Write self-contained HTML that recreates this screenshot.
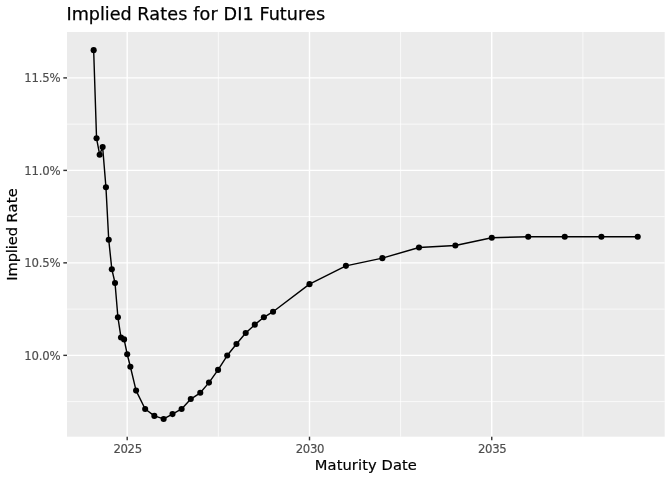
<!DOCTYPE html>
<html><head><meta charset="utf-8"><title>Implied Rates for DI1 Futures</title>
<style>html,body{margin:0;padding:0;background:#fff;}svg{display:block;}text{font-family:"DejaVu Sans","Liberation Sans",sans-serif;}</style></head><body>
<svg width="672" height="480" viewBox="0 0 672 480">
<rect width="672" height="480" fill="#ffffff"/>
<rect x="67.0" y="32.0" width="597.70" height="404.70" fill="#ebebeb"/>
<g stroke="#ffffff" stroke-width="0.71" fill="none">
<line x1="67.0" x2="664.7" y1="124.15" y2="124.15"/>
<line x1="67.0" x2="664.7" y1="216.6" y2="216.6"/>
<line x1="67.0" x2="664.7" y1="309.1" y2="309.1"/>
<line x1="67.0" x2="664.7" y1="401.6" y2="401.6"/>
<line y1="32.0" y2="436.7" x1="218.35" x2="218.35"/>
<line y1="32.0" y2="436.7" x1="400.6" x2="400.6"/>
<line y1="32.0" y2="436.7" x1="582.9" x2="582.9"/>
</g>
<g stroke="#ffffff" stroke-width="1.42" fill="none">
<line x1="67.0" x2="664.7" y1="77.9" y2="77.9"/>
<line x1="67.0" x2="664.7" y1="170.4" y2="170.4"/>
<line x1="67.0" x2="664.7" y1="262.85" y2="262.85"/>
<line x1="67.0" x2="664.7" y1="355.35" y2="355.35"/>
<line y1="32.0" y2="436.7" x1="127.2" x2="127.2"/>
<line y1="32.0" y2="436.7" x1="309.5" x2="309.5"/>
<line y1="32.0" y2="436.7" x1="491.75" x2="491.75"/>
</g>
<polyline fill="none" stroke="#000" stroke-width="1.42" stroke-linejoin="round" stroke-linecap="butt" points="93.66,50.15 96.55,138.3 99.65,154.7 102.64,147.1 105.94,187.2 108.73,239.75 111.83,269.2 115.02,283 117.92,317.3 121.01,337.5 124.11,339.4 127.2,354.2 130.39,366.7 136.08,390.6 145.17,409 154.35,415.9 163.64,418.95 172.52,414.1 181.61,408.95 190.79,399.05 200.28,392.8 208.96,382.6 218.05,369.9 227.23,355.55 236.46,343.95 245.7,333.0 254.78,324.65 263.87,317.3 273.05,311.7 309.49,284.15 345.93,265.85 382.37,258.15 419.0,247.45 455.34,245.55 491.78,237.7 528.22,236.7 564.75,236.7 601.39,236.7 637.73,236.7"/>
<g fill="#000" stroke="none">
<circle cx="93.66" cy="50.15" r="3.05"/>
<circle cx="96.55" cy="138.3" r="3.05"/>
<circle cx="99.65" cy="154.7" r="3.05"/>
<circle cx="102.64" cy="147.1" r="3.05"/>
<circle cx="105.94" cy="187.2" r="3.05"/>
<circle cx="108.73" cy="239.75" r="3.05"/>
<circle cx="111.83" cy="269.2" r="3.05"/>
<circle cx="115.02" cy="283" r="3.05"/>
<circle cx="117.92" cy="317.3" r="3.05"/>
<circle cx="121.01" cy="337.5" r="3.05"/>
<circle cx="124.11" cy="339.4" r="3.05"/>
<circle cx="127.2" cy="354.2" r="3.05"/>
<circle cx="130.39" cy="366.7" r="3.05"/>
<circle cx="136.08" cy="390.6" r="3.05"/>
<circle cx="145.17" cy="409" r="3.05"/>
<circle cx="154.35" cy="415.9" r="3.05"/>
<circle cx="163.64" cy="418.95" r="3.05"/>
<circle cx="172.52" cy="414.1" r="3.05"/>
<circle cx="181.61" cy="408.95" r="3.05"/>
<circle cx="190.79" cy="399.05" r="3.05"/>
<circle cx="200.28" cy="392.8" r="3.05"/>
<circle cx="208.96" cy="382.6" r="3.05"/>
<circle cx="218.05" cy="369.9" r="3.05"/>
<circle cx="227.23" cy="355.55" r="3.05"/>
<circle cx="236.46" cy="343.95" r="3.05"/>
<circle cx="245.7" cy="333.0" r="3.05"/>
<circle cx="254.78" cy="324.65" r="3.05"/>
<circle cx="263.87" cy="317.3" r="3.05"/>
<circle cx="273.05" cy="311.7" r="3.05"/>
<circle cx="309.49" cy="284.15" r="3.05"/>
<circle cx="345.93" cy="265.85" r="3.05"/>
<circle cx="382.37" cy="258.15" r="3.05"/>
<circle cx="419.0" cy="247.45" r="3.05"/>
<circle cx="455.34" cy="245.55" r="3.05"/>
<circle cx="491.78" cy="237.7" r="3.05"/>
<circle cx="528.22" cy="236.7" r="3.05"/>
<circle cx="564.75" cy="236.7" r="3.05"/>
<circle cx="601.39" cy="236.7" r="3.05"/>
<circle cx="637.73" cy="236.7" r="3.05"/>
</g>
<g stroke="#333333" stroke-width="1.42" fill="none">
<line x1="63.33" x2="67.0" y1="77.9" y2="77.9"/>
<line x1="63.33" x2="67.0" y1="170.4" y2="170.4"/>
<line x1="63.33" x2="67.0" y1="262.85" y2="262.85"/>
<line x1="63.33" x2="67.0" y1="355.35" y2="355.35"/>
<line y1="436.7" y2="440.37" x1="127.2" x2="127.2"/>
<line y1="436.7" y2="440.37" x1="309.5" x2="309.5"/>
<line y1="436.7" y2="440.37" x1="491.75" x2="491.75"/>
</g>
<g fill="#4d4d4d" stroke="#4d4d4d" stroke-width="0.15" font-size="11.73px">
<text x="60.3" y="82.10" text-anchor="end" letter-spacing="-0.25">11.5%</text>
<text x="60.3" y="174.60" text-anchor="end" letter-spacing="-0.25">11.0%</text>
<text x="60.3" y="267.05" text-anchor="end" letter-spacing="-0.25">10.5%</text>
<text x="60.3" y="359.55" text-anchor="end" letter-spacing="-0.25">10.0%</text>
<text x="127.60" y="452.6" text-anchor="middle" letter-spacing="-0.4">2025</text>
<text x="309.90" y="452.6" text-anchor="middle" letter-spacing="-0.4">2030</text>
<text x="492.15" y="452.6" text-anchor="middle" letter-spacing="-0.4">2035</text>
</g>
<text x="365.9" y="469.5" text-anchor="middle" font-size="14.67px" fill="#000" stroke="#000" stroke-width="0.2" letter-spacing="0.1">Maturity Date</text>
<text transform="translate(17.2,234.25) rotate(-90)" text-anchor="middle" font-size="14.67px" fill="#000" stroke="#000" stroke-width="0.2"><tspan letter-spacing="-0.13">Implied </tspan><tspan letter-spacing="0.3">Rate</tspan></text>
<text x="66.5" y="20.2" font-size="17.6px" fill="#000" stroke="#000" stroke-width="0.25" ><tspan letter-spacing="-0.02">Implied</tspan><tspan letter-spacing="0.13"> Rates for </tspan><tspan letter-spacing="0.08">DI1 Futures</tspan></text>
</svg></body></html>
